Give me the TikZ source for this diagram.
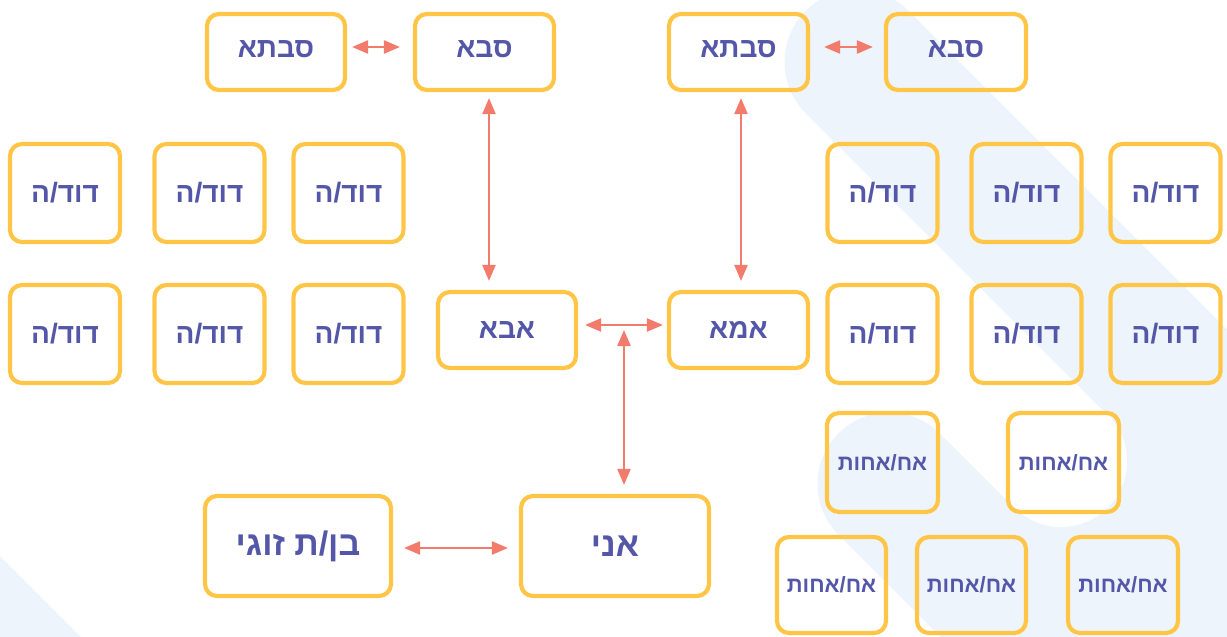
\documentclass[tikz,border=0pt]{standalone}
\usepackage{fontspec}
\usetikzlibrary{arrows.meta}
\newfontfamily\heb[Script=Hebrew]{Liberation Sans}
\TeXXeTstate=1
\definecolor{boxc}{HTML}{FFC547}
\definecolor{txtc}{HTML}{5457A8}
\definecolor{arrc}{HTML}{F27B6B}
\definecolor{bgc}{HTML}{EEF4FB}
\newcommand{\hb}[1]{\beginR #1\endR}
\begin{document}
\begin{tikzpicture}[x=1pt,y=-1pt,
  box/.style={draw=boxc, line width=4.2pt, rounded corners=12pt, inner sep=0pt,
    text=txtc, font=\heb\bfseries\fontsize{28}{30}\selectfont, align=center},
  small/.style={font=\heb\bfseries\fontsize{22}{24}\selectfont},
  big/.style={font=\heb\bfseries\fontsize{34}{36}\selectfont},
  arr/.style={draw=arrc, line width=2.4pt,
    {Triangle[length=16pt,width=13pt]}-{Triangle[length=16pt,width=13pt]}}]
\useasboundingbox (0,0) rectangle (1227,637);
\fill[white] (0,0) rectangle (1227,637);
\begin{scope}
  \clip (0,0) rectangle (1227,637);
  \draw[bgc, line width=145pt, line cap=round] (857,62) -- +(700,700);
  \draw[bgc, line width=143pt, line cap=round] (889,484) -- +(500,500);
  \draw[bgc, line width=140pt] (1061,461) -- +(600,600);
  \fill[white] (1061,461) circle (66pt);
  \fill[bgc] (0,556) -- (81,637) -- (0,637) -- cycle;
\end{scope}
% top row
\node[box, minimum width=138pt, minimum height=76pt] (sabtaL) at (276,52) {\raisebox{5pt}{\hb{סבתא}}};
\node[box, minimum width=139pt, minimum height=76pt] (sabaL) at (484.5,52) {\raisebox{5pt}{\hb{סבא}}};
\node[box, minimum width=139pt, minimum height=76pt] (sabtaR) at (738.5,52) {\raisebox{5pt}{\hb{סבתא}}};
\node[box, minimum width=140pt, minimum height=76pt] (sabaR) at (956,52) {\raisebox{5pt}{\hb{סבא}}};
% uncles/aunts
\foreach \n/\x in {a/65,b/209.5,c/348.5,d/882.5,e/1026.5,f/1165.5}{
  \node[box, minimum width=110pt, minimum height=98pt] (dodA\n) at (\x,193) {\hb{דוד/ה}};
  \node[box, minimum width=110pt, minimum height=98pt] (dodB\n) at (\x,334) {\hb{דוד/ה}};
}
% parents
\node[box, minimum width=138pt, minimum height=76pt] (abba) at (507,330) {\hb{אבא}};
\node[box, minimum width=139pt, minimum height=76pt] (imma) at (738.5,330) {\hb{אמא}};
% me and spouse
\node[box, big, minimum width=188pt, minimum height=100pt] (ani) at (615,546) {\hb{אני}};
\node[box, big, minimum width=186pt, minimum height=100pt] (zugi) at (298,546) {\hb{בן/ת זוגי}};
% siblings
\node[box, small, minimum width=111pt, minimum height=99pt] (achA) at (882.5,462.5) {\hb{אח/אחות}};
\node[box, small, minimum width=111pt, minimum height=99pt] (achB) at (1063.5,462.5) {\hb{אח/אחות}};
\node[box, small, minimum width=109pt, minimum height=96pt] (achC) at (831.5,585) {\hb{אח/אחות}};
\node[box, small, minimum width=109pt, minimum height=96pt] (achD) at (971.5,585) {\hb{אח/אחות}};
\node[box, small, minimum width=110pt, minimum height=96pt] (achE) at (1123,585) {\hb{אח/אחות}};
% connectors
\draw[arr, shorten <=5pt, shorten >=13pt] ([yshift=5pt]sabtaL.east) -- ([yshift=5pt]sabaL.west);
\draw[arr, shorten <=14pt, shorten >=11pt] ([yshift=5pt]sabtaR.east) -- ([yshift=5pt]sabaR.west);
\draw[arr, shorten <=6pt, shorten >=9pt] ([xshift=4.5pt]sabaL.south) -- ([xshift=4.5pt]sabaL.south |- abba.north);
\draw[arr, shorten <=6pt, shorten >=9pt] ([xshift=2.5pt]sabtaR.south) -- ([xshift=2.5pt]sabtaR.south |- imma.north);
\draw[arr, shorten <=7pt, shorten >=4pt] ([yshift=5pt]abba.east) -- ([yshift=5pt]imma.west);
\coordinate (mid) at (624,325);
\draw[arr, shorten <=5pt, shorten >=9pt] (mid) -- (mid |- ani.north);
\draw[arr, shorten <=11pt, shorten >=11pt] ([yshift=-2pt]zugi.east) -- ([yshift=-2pt]ani.west);
\end{tikzpicture}
\end{document}
